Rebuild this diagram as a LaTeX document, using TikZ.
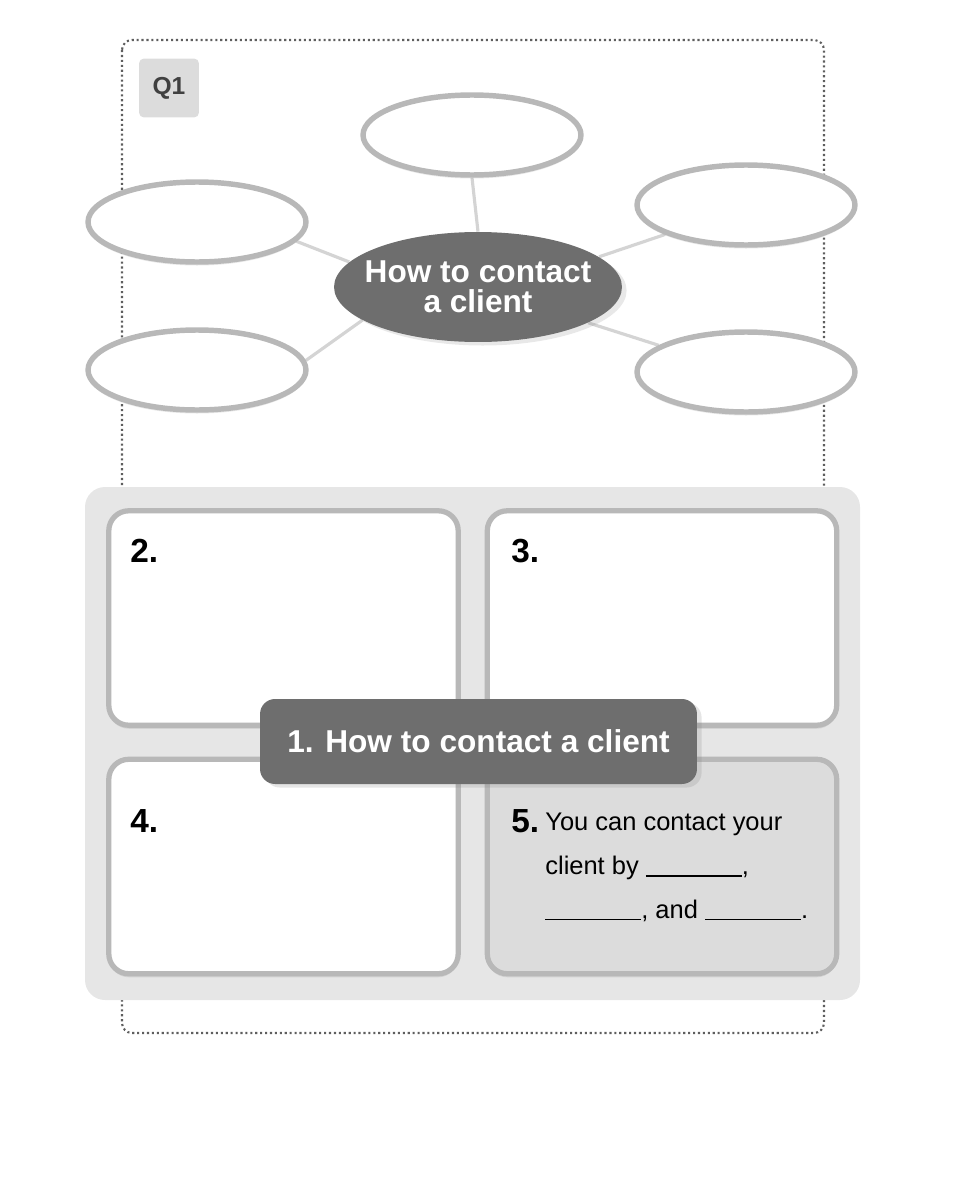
\documentclass[tikz,border=0pt]{standalone}
\usepackage{fontspec}
\setmainfont{Liberation Sans}
\usetikzlibrary{shapes.geometric,shadows,backgrounds}
\definecolor{rimgray}{HTML}{B8B8B8}
\definecolor{darkfill}{HTML}{6E6E6E}
\definecolor{panelgray}{HTML}{E6E6E6}
\definecolor{softgray}{HTML}{DCDCDC}
\definecolor{linkgray}{HTML}{D4D4D4}
\definecolor{dotgray}{HTML}{5E5E5E}
\tikzset{
  bubble/.style={ellipse, draw=rimgray, line width=3.1pt, fill=white,
    minimum width=4.36cm, minimum height=1.6cm, inner sep=0pt,
    drop shadow={opacity=0.18, shadow xshift=0pt, shadow yshift=-2pt}},
  card/.style={rectangle, rounded corners=0.4cm, draw=rimgray, line width=3pt,
    fill=white, minimum width=6.99cm, minimum height=4.29cm, inner sep=0pt,
    drop shadow={opacity=0.18, shadow xshift=0pt, shadow yshift=-2pt}},
  link/.style={linkgray, line width=1.8pt},
  num/.style={font=\fontsize{19}{22}\selectfont\bfseries, inner sep=0pt, anchor=base west},
}
\newcommand{\blank}{\rule[-1pt]{1.92cm}{0.7pt}}
\begin{document}
\begin{tikzpicture}[x=0.02cm, y=-0.02cm]
    \useasboundingbox (0,0) rectangle (965,1186);
    % dotted frame
    \draw[dotgray, line width=1.2pt, dash pattern=on 1.2pt off 1.6pt, rounded corners=0.2cm]
        (122,40) rectangle (824,1033);
    \node[fill=softgray, rounded corners=0.1cm, minimum width=1.2cm, minimum height=1.18cm,
          font=\fontsize{14}{16}\selectfont\bfseries, text=black!75] (q1) at (169,88) {Q1};
    % mind map
    \node[ellipse, fill=darkfill, minimum width=5.76cm, minimum height=2.2cm,
          inner xsep=-0.3cm, inner ysep=0pt,
          text=white, align=center, font=\fontsize{18}{17}\selectfont\bfseries,
          drop shadow={opacity=0.18, shadow yshift=-2pt}] (hub) at (478,287)
          {How to contact\\a client};
    \node[bubble] (top) at (472,135) {};
    \node[bubble] (lup) at (197,222) {};
    \node[bubble] (llo) at (197,370) {};
    \node[bubble] (rup) at (746,205) {};
    \node[bubble] (rlo) at (746,372) {};
    \begin{scope}[on background layer]
        \draw[link] (top.south) -- (hub.north);
        \draw[link] (lup.-11) -- (hub.169);
        \draw[link] (llo.5) -- (hub.-164);
        \draw[link] (rup.200) -- (hub.14);
        \draw[link] (rlo.163) -- (hub.-18);
    \end{scope}
    % worksheet panel
    \fill[panelgray, rounded corners=0.4cm] (85,487) rectangle (860,1000);
    \node[card] (c2) at (283.5,618) {};
    \node[card] (c3) at (662,618) {};
    \node[card] (c4) at (283.5,866.5) {};
    \node[card, fill=softgray] (c5) at (662,866.5) {};
    \node[fill=darkfill, rounded corners=0.3cm, minimum width=8.74cm, minimum height=1.7cm,
          text=white, font=\fontsize{18}{20}\selectfont\bfseries,
          drop shadow={opacity=0.2, shadow yshift=-2pt}] (title) at (478.5,741.5)
          {1. How to contact a client};
    \node[num] (n2) at (130,562) {2.};
    \node[num] (n3) at (511,562) {3.};
    \node[num] (n4) at (130,832) {4.};
    \node[num] (n5) at (511,832) {5.};
    \node[anchor=north west, inner sep=0pt, align=left,
          font=\fontsize{14.5}{25}\selectfont] (t5) at (545,813)
          {You can contact your\\client by \blank,\\\blank, and \blank.};
\end{tikzpicture}
\end{document}
